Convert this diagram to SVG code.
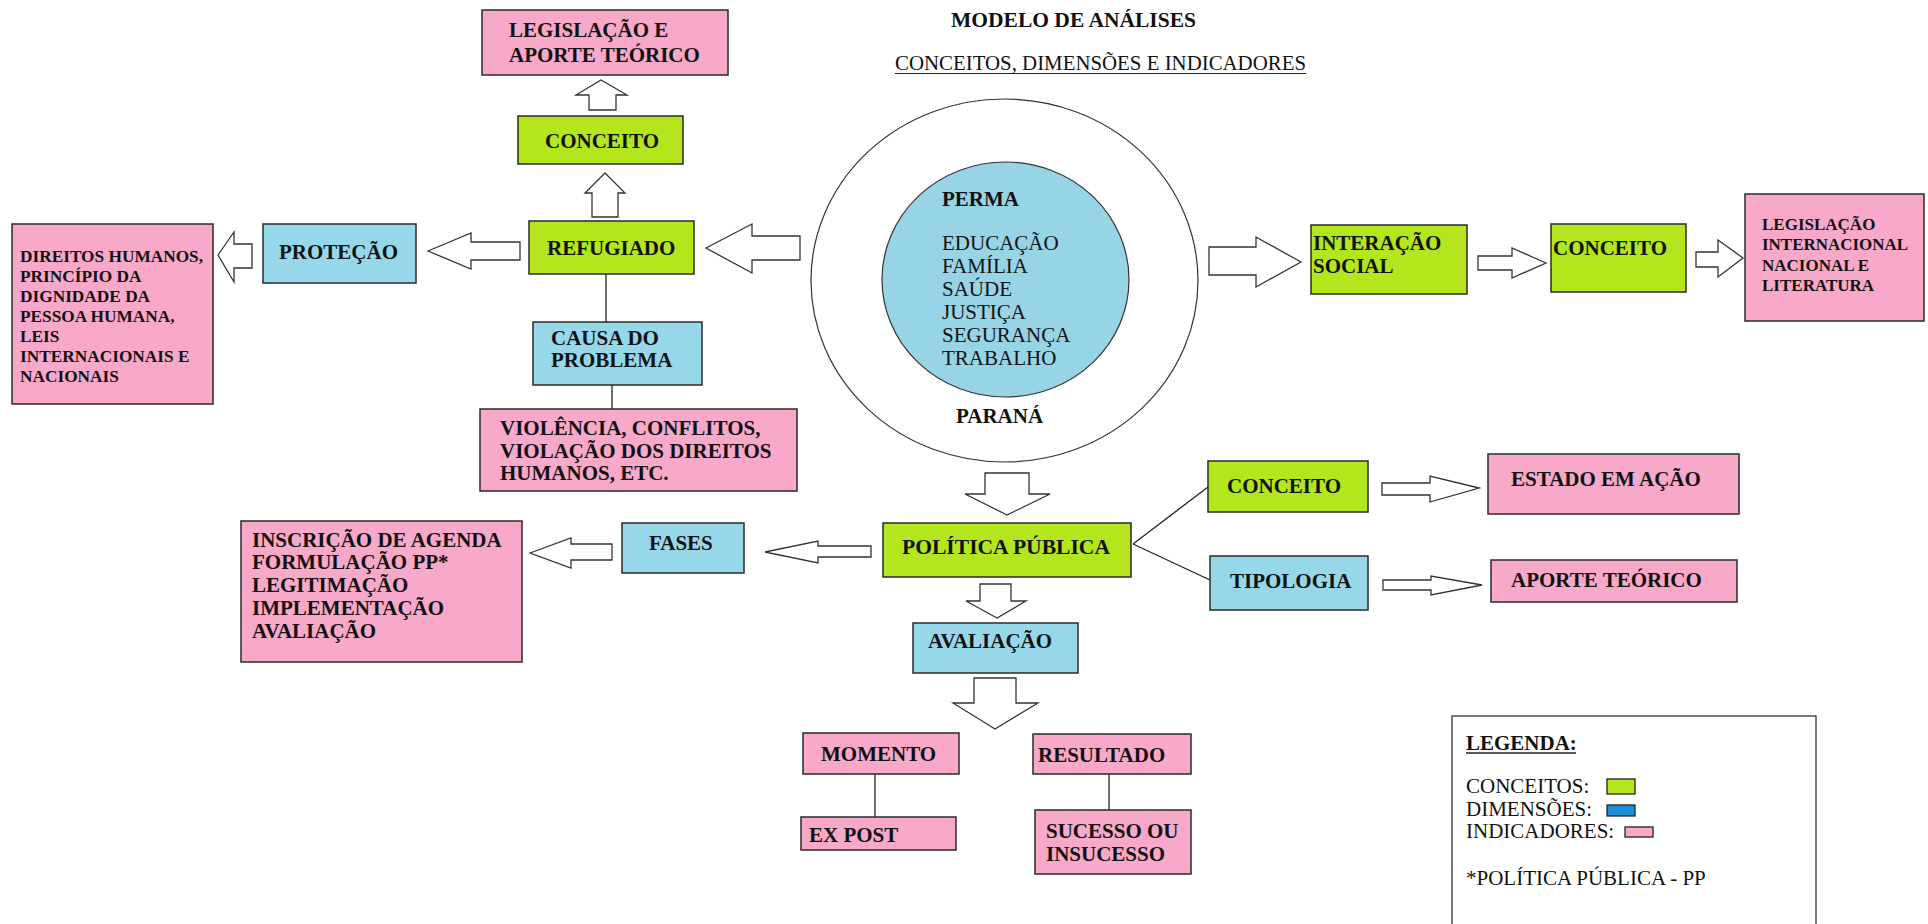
<svg xmlns="http://www.w3.org/2000/svg" width="1928" height="924" viewBox="0 0 1928 924">
<style>
text{font-family:"Liberation Serif","Times New Roman",serif;fill:#111;}
.b{font-weight:bold;font-size:21px;}
.r{font-size:21px;}
.s{font-weight:bold;font-size:17.3px;}
.xs{font-weight:bold;font-size:17px;}
.g{fill:#b4e61e;stroke:#2a2a2a;stroke-width:1.5;}
.bl{fill:#96d8ea;stroke:#2a2a2a;stroke-width:1.5;}
.p{fill:#f8a8c8;stroke:#2a2a2a;stroke-width:1.5;}
.arr{fill:#fff;stroke:#333;stroke-width:1.3;stroke-linejoin:miter;}
.ln{stroke:#222;stroke-width:1.3;fill:none;}
</style>
<rect width="1928" height="924" fill="#fff"/>

<g id="title">
<text class="b" x="951" y="27" textLength="245" lengthAdjust="spacingAndGlyphs">MODELO DE ANÁLISES</text>
<text class="r" x="895" y="70" textLength="411" lengthAdjust="spacingAndGlyphs">CONCEITOS, DIMENSÕES E INDICADORES</text>
<line x1="895" y1="73.5" x2="1306" y2="73.5" stroke="#222" stroke-width="1.2"/>
</g>

<g id="connectors">
<polygon class="arr" points="601,80 627,95 616,95 616,110 589,110 589,95 576,95"/>
<polygon class="arr" points="605,173 625,193 618,193 618,217 592,217 592,193 585,193"/>
<polygon class="arr" points="706,248 752,224 752,236 800,236 800,260 752,260 752,273"/>
<polygon class="arr" points="428,251 471,233 471,242 520,242 520,260 471,260 471,269"/>
<polygon class="arr" points="218,255 234,232 234,244 252,244 252,268 234,268 234,282"/>
<polygon class="arr" points="1301,262 1256,237 1256,247 1209,247 1209,275 1256,275 1256,287"/>
<polygon class="arr" points="1546,263 1512,248 1512,256 1478,256 1478,270 1512,270 1512,278"/>
<polygon class="arr" points="1743,258 1718,240 1718,252 1696,252 1696,267 1718,267 1718,277"/>
<polygon class="arr" points="1007,515 965,494 985,494 985,473 1029,473 1029,494 1050,494"/>
<polygon class="arr" points="765,552 818,541 818,546 871,546 871,557 818,557 818,563"/>
<polygon class="arr" points="530,553 571,538 571,544 612,544 612,560 571,560 571,568"/>
<polygon class="arr" points="1479,488 1430,476 1430,483 1382,483 1382,495 1430,495 1430,502"/>
<polygon class="arr" points="1482,585 1431,576 1431,580 1383,580 1383,590 1431,590 1431,595"/>
<polygon class="arr" points="997,618 966,601 980,601 980,584 1011,584 1011,601 1026,601"/>
<polygon class="arr" points="995,729 953,703 974,703 974,678 1016,678 1016,703 1038,703"/>
<line class="ln" x1="606" y1="274" x2="606" y2="322"/>
<line class="ln" x1="612" y1="385" x2="612" y2="409"/>
<line class="ln" x1="1133" y1="544" x2="1208" y2="487"/>
<line class="ln" x1="1133" y1="544" x2="1210" y2="580"/>
<line class="ln" x1="875" y1="774" x2="875" y2="817"/>
<line class="ln" x1="1109" y1="774" x2="1109" y2="810"/>
</g>

<g id="legislacao-aporte">
<rect class="p" x="482" y="10" width="246" height="65"/>
<text class="b" x="509" y="37">LEGISLAÇÃO E</text>
<text class="b" x="509" y="62">APORTE TEÓRICO</text>
</g>
<g id="conceito-refugiado">
<rect class="g" x="518" y="116" width="165" height="48"/>
<text class="b" x="545" y="148">CONCEITO</text>
</g>
<g id="refugiado">
<rect class="g" x="529" y="221" width="165" height="53"/>
<text class="b" x="547" y="255">REFUGIADO</text>
</g>
<g id="protecao">
<rect class="bl" x="263" y="224" width="153" height="59"/>
<text class="b" x="279" y="259">PROTEÇÃO</text>
</g>
<g id="direitos">
<rect class="p" x="12" y="224" width="201" height="180"/>
<text class="s" x="20" y="262" textLength="183" lengthAdjust="spacingAndGlyphs">DIREITOS HUMANOS,</text>
<text class="s" x="20" y="282">PRINCÍPIO DA</text>
<text class="s" x="20" y="302">DIGNIDADE DA</text>
<text class="s" x="20" y="322">PESSOA HUMANA,</text>
<text class="s" x="20" y="342">LEIS</text>
<text class="s" x="20" y="362">INTERNACIONAIS E</text>
<text class="s" x="20" y="382">NACIONAIS</text>
</g>
<g id="causa">
<rect class="bl" x="533" y="322" width="169" height="63"/>
<text class="b" x="551" y="345">CAUSA DO</text>
<text class="b" x="551" y="367">PROBLEMA</text>
</g>
<g id="violencia">
<rect class="p" x="480" y="409" width="317" height="82"/>
<text class="b" x="500" y="435">VIOLÊNCIA, CONFLITOS,</text>
<text class="b" x="500" y="458">VIOLAÇÃO DOS DIREITOS</text>
<text class="b" x="500" y="480">HUMANOS, ETC.</text>
</g>

<g id="parana">
<ellipse cx="1004.5" cy="280.5" rx="193.5" ry="181.5" fill="#fff" stroke="#333" stroke-width="1.2"/>
<text class="b" x="956" y="423">PARANÁ</text>
</g>
<g id="perma">
<ellipse cx="1005.5" cy="279.5" rx="123.5" ry="117.5" fill="#96d4e6" stroke="#333" stroke-width="1.2"/>
<text class="b" x="942" y="206">PERMA</text>
<text class="r" x="942" y="250">EDUCAÇÃO</text>
<text class="r" x="942" y="273">FAMÍLIA</text>
<text class="r" x="942" y="296">SAÚDE</text>
<text class="r" x="942" y="319">JUSTIÇA</text>
<text class="r" x="942" y="342">SEGURANÇA</text>
<text class="r" x="942" y="365">TRABALHO</text>
</g>

<g id="interacao">
<rect class="g" x="1311" y="225" width="156" height="69"/>
<text class="b" x="1313" y="250">INTERAÇÃO</text>
<text class="b" x="1313" y="273">SOCIAL</text>
</g>
<g id="conceito-interacao">
<rect class="g" x="1551" y="224" width="135" height="68"/>
<text class="b" x="1553" y="255">CONCEITO</text>
</g>
<g id="legislacao-internacional">
<rect class="p" x="1745" y="194" width="179" height="127"/>
<text class="xs" x="1762" y="230">LEGISLAÇÃO</text>
<text class="xs" x="1762" y="250" textLength="146" lengthAdjust="spacingAndGlyphs">INTERNACIONAL</text>
<text class="xs" x="1762" y="271">NACIONAL E</text>
<text class="xs" x="1762" y="291">LITERATURA</text>
</g>

<g id="politica">
<rect class="g" x="883" y="523" width="248" height="54"/>
<text class="b" x="902" y="554" textLength="208" lengthAdjust="spacingAndGlyphs">POLÍTICA PÚBLICA</text>
</g>
<g id="fases">
<rect class="bl" x="622" y="523" width="122" height="50"/>
<text class="b" x="649" y="550">FASES</text>
</g>
<g id="inscricao">
<rect class="p" x="241" y="521" width="281" height="141"/>
<text class="b" x="252" y="547">INSCRIÇÃO DE AGENDA</text>
<text class="b" x="252" y="569">FORMULAÇÃO PP*</text>
<text class="b" x="252" y="592">LEGITIMAÇÃO</text>
<text class="b" x="252" y="615">IMPLEMENTAÇÃO</text>
<text class="b" x="252" y="638">AVALIAÇÃO</text>
</g>
<g id="conceito-politica">
<rect class="g" x="1208" y="461" width="160" height="51"/>
<text class="b" x="1227" y="493">CONCEITO</text>
</g>
<g id="estado">
<rect class="p" x="1488" y="454" width="251" height="60"/>
<text class="b" x="1511" y="486">ESTADO EM AÇÃO</text>
</g>
<g id="tipologia">
<rect class="bl" x="1210" y="556" width="158" height="54"/>
<text class="b" x="1230" y="588">TIPOLOGIA</text>
</g>
<g id="aporte">
<rect class="p" x="1491" y="560" width="246" height="42"/>
<text class="b" x="1511" y="587">APORTE TEÓRICO</text>
</g>
<g id="avaliacao">
<rect class="bl" x="913" y="623" width="165" height="50"/>
<text class="b" x="928" y="648">AVALIAÇÃO</text>
</g>
<g id="momento">
<rect class="p" x="803" y="733" width="156" height="41"/>
<text class="b" x="821" y="761">MOMENTO</text>
</g>
<g id="expost">
<rect class="p" x="801" y="817" width="155" height="33"/>
<text class="b" x="809" y="842">EX POST</text>
</g>
<g id="resultado">
<rect class="p" x="1033" y="734" width="158" height="40"/>
<text class="b" x="1038" y="762">RESULTADO</text>
</g>
<g id="sucesso">
<rect class="p" x="1035" y="810" width="156" height="64"/>
<text class="b" x="1046" y="838">SUCESSO OU</text>
<text class="b" x="1046" y="861">INSUCESSO</text>
</g>

<g id="legenda">
<rect x="1452" y="716" width="364" height="214" fill="#fff" stroke="#333" stroke-width="1.3"/>
<text class="b" x="1466" y="750">LEGENDA:</text>
<line x1="1466" y1="753" x2="1576" y2="753" stroke="#222" stroke-width="1.3"/>
<text class="r" x="1466" y="793">CONCEITOS:</text>
<rect x="1607" y="779" width="28" height="15" fill="#b4e61e" stroke="#222" stroke-width="1.3"/>
<text class="r" x="1466" y="816">DIMENSÕES:</text>
<rect x="1607" y="805" width="28" height="11" fill="#1a8fd8" stroke="#222" stroke-width="1.3"/>
<text class="r" x="1466" y="838">INDICADORES:</text>
<rect x="1625" y="827" width="28" height="10" fill="#f8a8c8" stroke="#222" stroke-width="1.3"/>
<text class="r" x="1466" y="885">*POLÍTICA PÚBLICA - PP</text>
</g>
</svg>
